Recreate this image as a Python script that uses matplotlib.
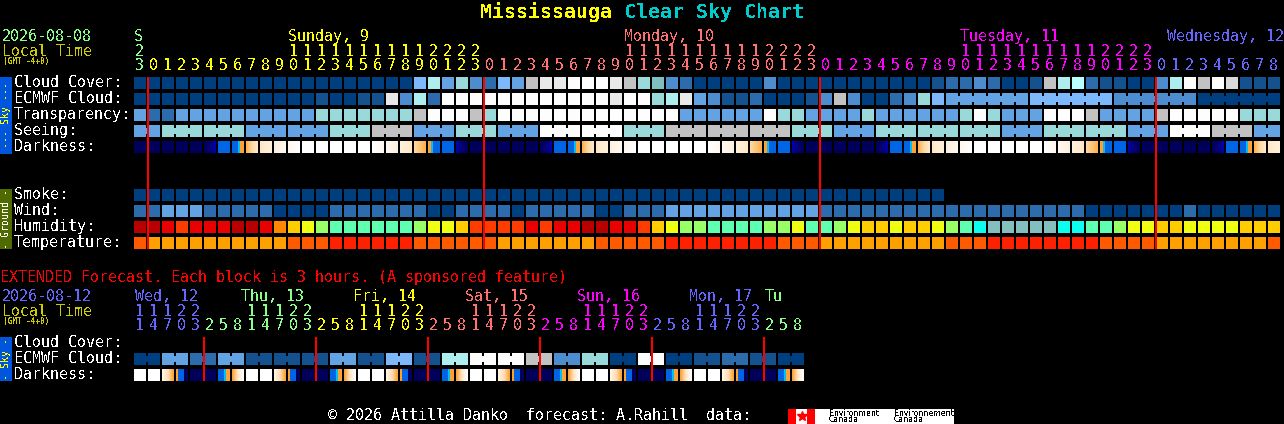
#!/usr/bin/env python3
"""
Clear sky chart: hourly and 3-hourly forecast blocks
"""
import matplotlib
matplotlib.use("Agg")
import matplotlib.pyplot as plt
import numpy as np
from matplotlib.colors import to_rgb

plt.rcParams['font.family'] = ['DejaVu Sans Mono']
plt.rcParams['text.antialiased'] = False

# Hourly rows, one letter per block
cloud_cover = ("aaaaaaaaaa aaaaaaaaaa fhegdcfekl lwwwlkgtdc aaaaadaaaa "
               "aaaaaaabcc dcaabkhjcb baadhwkwmb bb")
ecmwf_cloud = ("aaaaaaaaaa aaabaabbld hcwwwwwwww wwwwlwwghl edbbcaaabd "
               "kdaacdgfee eeeeffffff ddddddaaaa aa")
transparency = ("ecc eeeeeeeeee ggggggg k www k g wwwwwwwwwwwww eeeeee w gg "
                "eeee g eeeeee g w g eee www k eeee k wwwww ggg")
seeing = ("ee gggggg eeeeee ggg kkk eee ggg eee wwwwww ggg kkkkkkkkk ggg "
          "eee ggggggggg eee gggggg eee www kkk ee")
darkness = ("NNNNNFBAPCVUWWWWWuvcEOBD NNNNNFBAPCVUWWWWWuvcEOBD "
            "NNNNNFBAPCVUWWWWWuvcEOBD NNNNNFBAPC")
smoke = "a" * 58
wind = ("cceeeccccc aaaacccccc caaccccacc cccaacccee eeeeeeeee "
        "ccccccccccccccccccc aaaaaaa c aaaaaa")
humidity = ("DDROrrrDDr AMYLNNNNNN LYYMOOOORO RRDDRROMYL LNNNNLLYNN "
            "LYMMYMMYLN CTTTTTCCNN LYYMMYYYYM MM")
temperature = ("s aaaaaaaaaa sss rrrrrr ssssss aaaaaaa sssss rrrrrrrr sss "
               "aaaaaaaaa sss rrrrrrrr ssss aaaaaaaa s")

# 3-hourly extended rows
ext_ecmwf = ("aaee ccee bbbb bbee bbff bbhh wwww kkdd ggaa wwaa bbcc bbaa")
ext_darkness = "WWqoNNrs WWqoNNrs WWqoNNrs WWqoNNrs WWqoNNrs WWqoNNrs"

# Hour tick labels
hour_tens = ["2"] + [" "] * 10 + list("11111111112222") + [" "] * 10 \
    + list("11111111112222") + [" "] * 10 + list("11111111112222") + [" "] * 9
hour_units = list("3" + "0123456789" * 2 + "0123" + "0123456789" * 2 + "0123"
                  + "0123456789" * 2 + "0123" + "012345678")
ext_tens = list("11122   11122   11122   11122   11122   11122   ")
ext_units = list("14703258" * 6)

day_labels = [("S", 134), ("Sunday, 9", 288), ("Monday, 10", 624),
              ("Tuesday, 11", 960), ("Wednesday, 12", 1167)]
ext_day_labels = [("Wed, 12", 135), ("Thu, 13", 241), ("Fri, 14", 353),
                  ("Sat, 15", 465), ("Sun, 16", 577), ("Mon, 17", 689),
                  ("Tu", 765)]
midnights = [1, 25, 49, 73]
ext_midnights = [5, 13, 21, 29, 37, 45]

SKY = {'a': '#003f7f', 'b': '#13528f', 'c': '#2c6cac', 'd': '#4c8ccf',
       'e': '#63a3e3', 'f': '#7cb8fb', 'g': '#99d9d9', 't': '#7fbfbf',
       'h': '#aeeeee', 'j': '#b8ffff', 'k': '#c2c2c2', 'l': '#e9e9e9',
       'm': '#d9d9d9', 'w': '#fdfdfd'}
HUMID = {'D': '#b90000', 'R': '#e90000', 'r': '#e90000', 'O': '#ff3c00',
         'A': '#ff8800', 'M': '#ffcc00', 'Y': '#eeff12', 'L': '#99ff66',
         'N': '#5effb0', 'C': '#0cffee', 'T': '#83bfbf'}
TEMP = {'a': '#ffa000', 's': '#ff5a00', 'r': '#ff2000'}

NAVY, SKYBLUE, CYAN, ORANGE = '#00005a', '#0064e6', '#00c0f0', '#ffa030'
DARK = {'N': [NAVY, NAVY], 'F': [NAVY, '#000070', '#0000b0'],
        'D': ['#0000b0', '#000070', NAVY], 'B': [SKYBLUE, SKYBLUE],
        'A': [SKYBLUE] * 6 + [CYAN] * 2 + [ORANGE] * 4,
        'P': ['#ffb050', '#ffd8a0', '#ffe8c8'], 'V': ['#fff0dc', '#fff8f0'],
        'U': ['#fff8f0', '#ffffff'], 'W': ['#ffffff', '#ffffff'],
        'u': ['#ffffff', '#fff8f0'], 'v': ['#fff8f0', '#fff0dc'],
        'c': ['#fff0dc', '#ffe8c8'], 'C': ['#ffe8c8', '#fff0dc'],
        'E': ['#ffd8a0', '#ffb050'],
        'O': [ORANGE] * 3 + [CYAN] * 2 + [SKYBLUE] * 7,
        'q': ['#fff4e8', '#ffe0b8', ORANGE],
        'o': [ORANGE] * 2 + [SKYBLUE] * 6 + [NAVY] * 4,
        'r': [SKYBLUE] * 6 + [CYAN] * 2 + [ORANGE] * 4,
        's': [ORANGE, '#ffe8c8', '#ffffff']}

GREEN, YELLOW, SALMON, MAGENTA, BLUE = ('#88ff88', '#ffff00', '#ff7070',
                                        '#ff00ff', '#6666ff')
OLIVE = '#cccc00'

X0 = 134
STEP = 14
CELL = 12


def clean(s):
    return s.replace(" ", "")


def draw_row(ax, letters, colors, top, joined=None):
    for i, ch in enumerate(clean(letters)):
        left = X0 + STEP * i
        ax.bar(left, CELL, width=CELL, bottom=top, align='edge',
               color=colors[ch], linewidth=0)
        if joined is not None and joined(i):
            ax.bar(left + CELL, 6, width=STEP - CELL, bottom=top + 3,
                   align='edge', color=colors[ch], linewidth=0)


def draw_dark_row(ax, letters, top):
    for i, ch in enumerate(clean(letters)):
        stops = np.array([to_rgb(c) for c in DARK[ch]])
        t = np.linspace(0, 1, CELL)
        pos = np.linspace(0, 1, len(stops))
        rgb = np.stack([np.interp(t, pos, stops[:, k]) for k in range(3)],
                       axis=-1)
        left = X0 + STEP * i
        ax.imshow(rgb[np.newaxis, :, :], extent=(left, left + CELL,
                                                 top + CELL, top),
                  aspect='auto', interpolation='nearest', zorder=2)


def put(ax, x, y, s, color='white', size=10.8, **kw):
    # y is the text baseline in pixels
    ax.text(x, y, s, color=color, fontsize=size, ha=kw.pop('ha', 'left'),
            va='baseline', **kw)


def unit_color(i):
    if i < 1:
        return GREEN
    if i < 25:
        return YELLOW
    if i < 49:
        return SALMON
    if i < 73:
        return MAGENTA
    return BLUE


def ext_color(i):
    colors = [BLUE, GREEN, YELLOW, SALMON, MAGENTA, BLUE, GREEN]
    return colors[(i + 3) // 8]


fig = plt.figure(figsize=(12.84, 4.24), dpi=100, facecolor='black')
ax = fig.add_axes([0, 0, 1, 1])
ax.set_facecolor('black')
ax.axis('off')

# Title
put(ax, 480, 18, "Mississauga", YELLOW, 14.4, fontweight='bold')
put(ax, 624, 18, "Clear Sky Chart", '#00cccc', 14.4, fontweight='bold')

# Main header
put(ax, 2, 41, "2026-08-08", GREEN)
put(ax, 2, 56, "Local Time", OLIVE)
put(ax, 3, 64, "(GMT -4+0)", OLIVE, 5.6, fontweight='bold')
for (label, x), color in zip(day_labels, [GREEN, YELLOW, SALMON, MAGENTA, BLUE]):
    put(ax, x, 41, label, color)
for i, (tens, units) in enumerate(zip(hour_tens, hour_units)):
    left = X0 + STEP * i + 5.5
    put(ax, left, 56, tens, unit_color(i), ha='center')
    put(ax, left, 70, units, unit_color(i), ha='center')

# Sky rows
row_names = ["Cloud Cover:", "ECMWF Cloud:", "Transparency:", "Seeing:",
             "Darkness:"]
for k, name in enumerate(row_names):
    put(ax, 14, 87 + 16 * k, name)
draw_row(ax, cloud_cover, SKY, 77)
draw_row(ax, ecmwf_cloud, SKY, 93,
         joined=lambda i: i >= 58 and clean(ecmwf_cloud)[i:i + 2] in
         ('ee', 'ff', 'dd', 'aa'))
draw_row(ax, transparency, SKY, 109)
draw_row(ax, seeing, SKY, 125, joined=lambda i: (i + 1) % 3 != 2 and i < 81)
draw_dark_row(ax, darkness, 141)

# Ground rows
for k, name in enumerate(["Smoke:", "Wind:", "Humidity:", "Temperature:"]):
    put(ax, 14, 199 + 16 * k, name)
draw_row(ax, smoke, SKY, 189)
draw_row(ax, wind, SKY, 205)
draw_row(ax, humidity, HUMID, 221)
draw_row(ax, temperature, TEMP, 237)

# Extended block
put(ax, 0, 282, "EXTENDED Forecast. Each block is 3 hours. (A sponsored feature)",
    '#ff0000')
put(ax, 2, 301, "2026-08-12", BLUE)
put(ax, 2, 316, "Local Time", OLIVE)
put(ax, 3, 324, "(GMT -4+0)", OLIVE, 5.6, fontweight='bold')
for (label, x), color in zip(ext_day_labels,
                             [BLUE, GREEN, YELLOW, SALMON, MAGENTA, BLUE, GREEN]):
    put(ax, x, 301, label, color)
for i, (tens, units) in enumerate(zip(ext_tens, ext_units)):
    left = X0 + STEP * i + 5.5
    put(ax, left, 316, tens, ext_color(i), ha='center')
    put(ax, left, 330, units, ext_color(i), ha='center')
for k, name in enumerate(["Cloud Cover:", "ECMWF Cloud:", "Darkness:"]):
    put(ax, 14, 347 + 16 * k, name)
draw_row(ax, ext_ecmwf, SKY, 353, joined=lambda i: i % 2 == 0)
draw_dark_row(ax, ext_darkness, 369)

# Midnight markers
ax.bar([X0 + STEP * m - 1 for m in midnights], 172, width=2, bottom=77,
       align='edge', color='#ff0000', linewidth=0, zorder=3)
ax.bar([X0 + STEP * m - 1 for m in ext_midnights], 44, width=2, bottom=337,
       align='edge', color='#ff0000', linewidth=0, zorder=3)

# Side bars
ax.bar(0, 77, width=12, bottom=77, align='edge', color='#0055dd', linewidth=0)
ax.bar(0, 60, width=12, bottom=189, align='edge', color='#4f6b00', linewidth=0)
ax.bar(0, 44, width=12, bottom=337, align='edge', color='#0055dd', linewidth=0)
ax.text(6, 115, "--- Sky ---", color=YELLOW, fontsize=7.2, rotation=90,
        ha='center', va='center')
ax.text(6, 219, "- Ground -", color='white', fontsize=7.2, rotation=90,
        ha='center', va='center')
ax.text(6, 359, "- Sky -", color=YELLOW, fontsize=7.2, rotation=90,
        ha='center', va='center')

# Footer
put(ax, 328, 420, "\u00a9 2026 Attilla Danko  forecast: A.Rahill  data:")
ax.bar(788, 15, width=166, bottom=409, align='edge', color='white', linewidth=0)
ax.bar([788, 807], 15, width=8, bottom=409, align='edge', color='#ff0000',
       linewidth=0)
ax.plot([801.5], [416], marker='*', color='#ff0000', markersize=7, linewidth=0)
for x, word in [(829, "Environment"), (894, "Environnement")]:
    ax.text(x, 413, word, color='black', fontsize=5.6, va='center',
            family='DejaVu Sans')
    ax.text(x, 420, "Canada", color='black', fontsize=5.6, va='center',
            family='DejaVu Sans')

ax.set_xlim(0, 1284)
ax.set_ylim(424, 0)

fig.savefig("out.png", dpi=100, facecolor='black')
